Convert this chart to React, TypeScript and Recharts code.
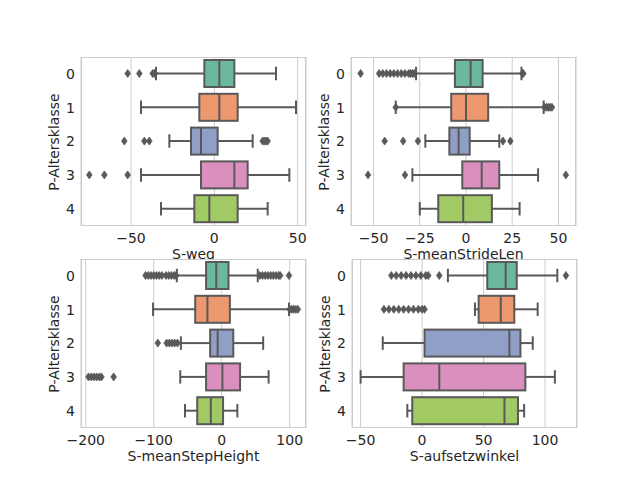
import React from "react";
import { ComposedChart, Bar, XAxis, YAxis, CartesianGrid } from "recharts";

const CATS = ["0", "1", "2", "3", "4"];
const COLORS = ["#6bb7a0", "#ee9870", "#8f9fc5", "#db8fbe", "#a1c964"];
const LINE = "#595959";
const TEXT = "#262626";
const GRID = "#cccccc";

// S-weg
const WEG_LO = [-35, -44, -27, -44, -32];
const WEG_Q1 = [-6, -9, -14, -8, -12];
const WEG_MED = [3, 3, -8, 12, -3];
const WEG_Q3 = [12, 14, 2, 20, 14];
const WEG_HI = [37, 49, 23, 45, 32];
const WEG_OUT = [[-52, -45, -37, -36, -35.5], [], [-54, -42, -39, 29, 30, 31, 32], [-75, -66, -52], []];

// S-meanStrideLen
const STRIDE_LO = [-27, -38, -22, -29, -25];
const STRIDE_Q1 = [-6, -8, -9, -2, -15];
const STRIDE_MED = [2.5, 0, -4, 8.5, -1.5];
const STRIDE_Q3 = [9, 12, 2, 18, 14];
const STRIDE_HI = [30, 42, 18, 39, 29];
const STRIDE_OUT = [
  [-57, -47, -45, -43, -41, -39, -37, -35, -33, -31, -30, -29, -28, 30.5, 31],
  [-38, 42.5, 43.5, 44.5, 45.5, 46.5],
  [-44, -34, -26, 20, 24],
  [-53, -33, 54],
  [],
];

// S-meanStepHeight
const STEP_LO = [-66, -101, -60, -61, -54];
const STEP_Q1 = [-23, -39, -17, -23, -36];
const STEP_MED = [-8, -21, -6, 1, -16];
const STEP_Q3 = [10, 12, 17, 27, 2];
const STEP_HI = [53, 99, 61, 69, 23];
const STEP_OUT = [
  [-112, -108, -104, -100, -96, -92, -88, -82, -78, -74, -70, -67, 56, 60, 64, 68, 72, 76, 80, 84, 86, 99],
  [100, 103, 106, 109, 112],
  [-94, -81, -77, -73, -69, -65],
  [-196, -192, -188, -184, -180, -177, -159],
  [],
];

// S-aufsetzwinkel
const WINKEL_LO = [21, 43, -32, -50, -12];
const WINKEL_Q1 = [53, 46, 2, -15, -8];
const WINKEL_MED = [68, 64, 71, 14, 67];
const WINKEL_Q3 = [77, 75, 80, 84, 78];
const WINKEL_HI = [110, 94, 90, 108, 83];
const WINKEL_OUT = [
  [-25, -21, -17, -13, -9, -5, -1, 3, 5, 14, 117],
  [-31, -27, -23, -19, -15, -11, -7, -3, 0, 2],
  [],
  [],
  [],
];

function rows(lo, q1, med, q3, hi, out) {
  return CATS.map((c, i) => ({
    cat: c,
    idx: i,
    lo: lo[i],
    q1: q1[i],
    med: med[i],
    q3: q3[i],
    hi: hi[i],
    out: out[i],
  }));
}

const SW = 2;

function BoxShape(props: any) {
  const { x, y, width, height, payload } = props;
  const k = width / (payload.q3 - payload.q1);
  const px = (v: number) => x + (v - payload.q1) * k;
  const cy = y + height / 2;
  const cap = height / 4;
  return (
    <g>
      <line x1={px(payload.lo)} x2={x} y1={cy} y2={cy} stroke={LINE} strokeWidth={SW} />
      <line x1={x + width} x2={px(payload.hi)} y1={cy} y2={cy} stroke={LINE} strokeWidth={SW} />
      <line x1={px(payload.lo)} x2={px(payload.lo)} y1={cy - cap} y2={cy + cap} stroke={LINE} strokeWidth={SW} />
      <line x1={px(payload.hi)} x2={px(payload.hi)} y1={cy - cap} y2={cy + cap} stroke={LINE} strokeWidth={SW} />
      <rect x={x} y={y} width={width} height={height} fill={COLORS[payload.idx]} stroke={LINE} strokeWidth={SW} />
      <line x1={px(payload.med)} x2={px(payload.med)} y1={y} y2={y + height} stroke={LINE} strokeWidth={SW} />
      {payload.out.map((v: number, j: number) => {
        const cx = px(v);
        return (
          <path
            key={j}
            d={`M${cx},${cy - 4}L${cx + 2.8},${cy}L${cx},${cy + 4}L${cx - 2.8},${cy}Z`}
            fill={LINE}
            stroke={LINE}
            strokeWidth={0.8}
          />
        );
      })}
    </g>
  );
}

const fmt = (v: number) => String(v).replace("-", "\u2212");

function Panel({ L, T, R, B, data, domain, ticks, xlabel }) {
  const w = R - L + 70;
  const h = B - T + 50;
  return (
    <>
      <div style={{ position: "absolute", left: L, top: T, width: R - L, height: B - T, background: "#fff" }} />
      <div style={{ position: "absolute", left: L - 60, top: T - 10 }}>
        <ComposedChart width={w} height={h} data={data} layout="vertical" margin={{ top: 10, right: 10, left: 0, bottom: 0 }}>
          <CartesianGrid horizontal={false} stroke={GRID} strokeWidth={1} />
          <XAxis
            type="number"
            domain={domain}
            ticks={ticks}
            allowDataOverflow
            height={40}
            tickLine={false}
            axisLine={false}
            tick={{ fontSize: 14, fill: TEXT }}
            tickFormatter={fmt}
            tickMargin={1}
          />
          <YAxis
            type="category"
            dataKey="cat"
            width={60}
            tickLine={false}
            axisLine={false}
            tick={{ fontSize: 14, fill: TEXT }}
            tickMargin={0}
          />
          <Bar dataKey={(d) => [d.q1, d.q3]} barSize={27} shape={BoxShape} isAnimationActive={false} />
        </ComposedChart>
      </div>
      <div style={{ position: "absolute", left: L, top: T, width: R - L - 2, height: B - T - 2, border: `1px solid ${GRID}`, pointerEvents: "none" }} />
      <div style={{ position: "absolute", left: L, width: R - L, top: B + 20, textAlign: "center", fontSize: 14, color: TEXT }}>{xlabel}</div>
      <div
        style={{
          position: "absolute",
          left: L - 27,
          top: (T + B) / 2,
          transform: "translate(-50%, -50%) rotate(-90deg)",
          whiteSpace: "nowrap",
          fontSize: 14,
          color: TEXT,
        }}
      >
        P-Altersklasse
      </div>
    </>
  );
}

export default function App() {
  return (
    <div style={{ position: "absolute", left: 0, top: 0, width: 640, height: 480, background: "#fff", fontFamily: "DejaVu Sans", overflow: "hidden" }}>
      <Panel L={81} T={57} R={306} B={226} data={rows(WEG_LO, WEG_Q1, WEG_MED, WEG_Q3, WEG_HI, WEG_OUT)} domain={[-80, 55]} ticks={[-50, 0, 50]} xlabel="S-weg" />
      <Panel L={351} T={57} R={576} B={226} data={rows(STRIDE_LO, STRIDE_Q1, STRIDE_MED, STRIDE_Q3, STRIDE_HI, STRIDE_OUT)} domain={[-62.2, 59.5]} ticks={[-50, -25, 0, 25, 50]} xlabel="S-meanStrideLen" />
      <Panel L={81} T={259} R={306} B={428} data={rows(STEP_LO, STEP_Q1, STEP_MED, STEP_Q3, STEP_HI, STEP_OUT)} domain={[-207, 124]} ticks={[-200, -100, 0, 100]} xlabel="S-meanStepHeight" />
      <Panel L={352} T={259} R={577} B={428} data={rows(WINKEL_LO, WINKEL_Q1, WINKEL_MED, WINKEL_Q3, WINKEL_HI, WINKEL_OUT)} domain={[-57, 126]} ticks={[-50, 0, 50, 100]} xlabel="S-aufsetzwinkel" />
    </div>
  );
}
